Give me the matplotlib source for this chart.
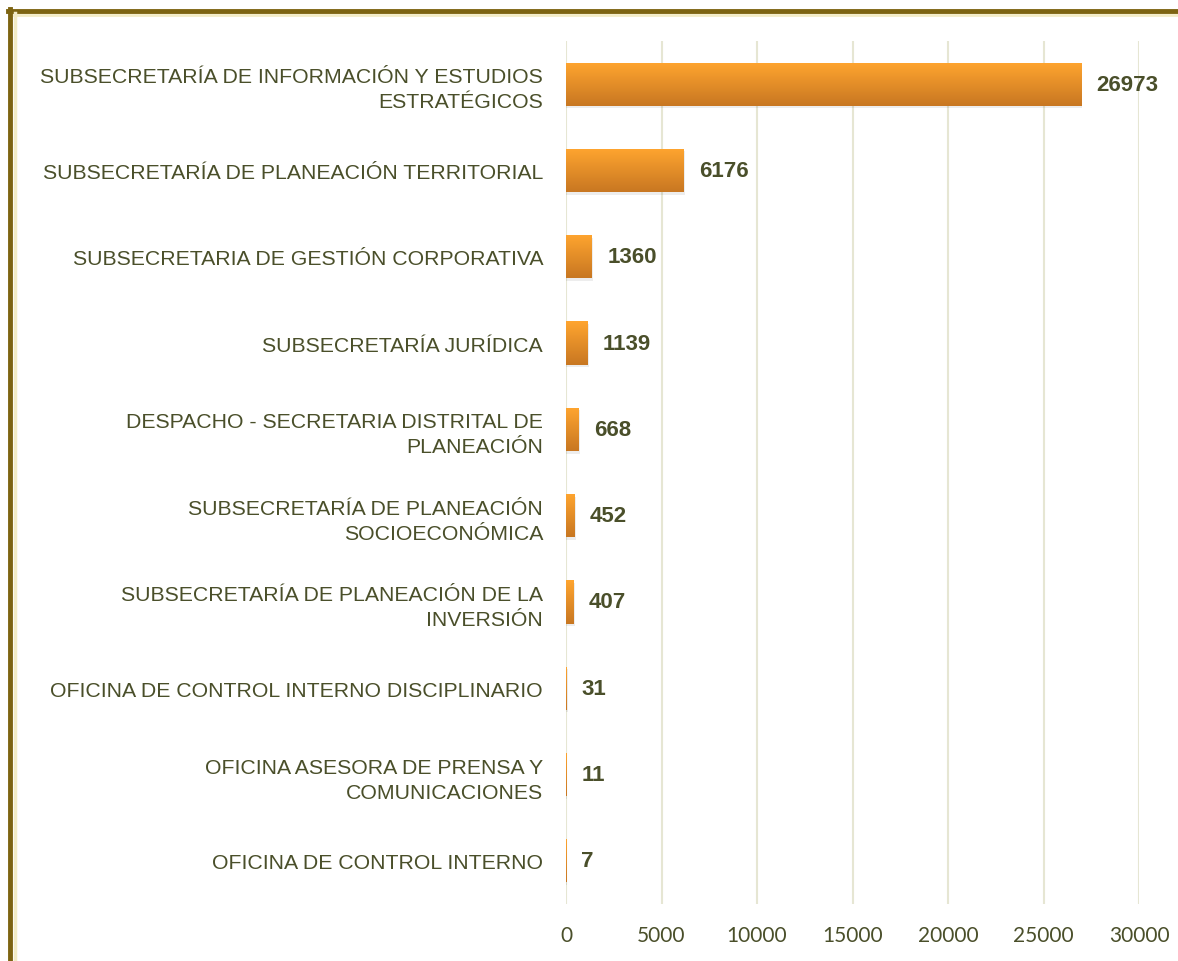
import matplotlib
matplotlib.use("Agg")
import matplotlib.pyplot as plt
from matplotlib.lines import Line2D
from matplotlib.patches import Rectangle
import numpy as np

categories = [
    "SUBSECRETARÍA DE INFORMACIÓN Y ESTUDIOS\nESTRATÉGICOS",
    "SUBSECRETARÍA DE PLANEACIÓN TERRITORIAL",
    "SUBSECRETARIA DE GESTIÓN CORPORATIVA",
    "SUBSECRETARÍA JURÍDICA",
    "DESPACHO - SECRETARIA DISTRITAL DE\nPLANEACIÓN",
    "SUBSECRETARÍA DE PLANEACIÓN\nSOCIOECONÓMICA",
    "SUBSECRETARÍA DE PLANEACIÓN DE LA\nINVERSIÓN",
    "OFICINA DE CONTROL INTERNO DISCIPLINARIO",
    "OFICINA ASESORA DE PRENSA Y\nCOMUNICACIONES",
    "OFICINA DE CONTROL INTERNO",
]
values = [26973, 6176, 1360, 1139, 668, 452, 407, 31, 11, 7]
xticks = [0, 5000, 10000, 15000, 20000, 25000, 30000]

text_color = "#4a4f2a"
label_font = ["Liberation Sans", "DejaVu Sans"]

fig = plt.figure(figsize=(11.78, 9.62), dpi=100)
ax = fig.add_axes([566 / 1178, 1 - 905 / 962, (1139 - 566) / 1178, (905 - 42) / 962])

y = np.arange(len(values))
bar_h = 0.5
grad = np.linspace(0, 1, 100).reshape(-1, 1)
cmap = matplotlib.colors.LinearSegmentedColormap.from_list("bar", ["#ffa52f", "#c87722"])

for yi, v in zip(y, values):
    # soft shadow below/right of the bar
    ax.add_patch(Rectangle((0, yi - bar_h / 2 + 0.03), v + 60, bar_h,
                           facecolor="#000000", alpha=0.07, edgecolor="none", zorder=2))
    rect = Rectangle((0, yi - bar_h / 2), v, bar_h, facecolor="none", edgecolor="none", zorder=3)
    ax.add_patch(rect)
    im = ax.imshow(grad, cmap=cmap, aspect="auto", extent=(0, v, yi + bar_h / 2, yi - bar_h / 2),
                   zorder=3, interpolation="bilinear")
    im.set_clip_path(rect)
    ax.annotate(str(v), (v, yi), xytext=(11, 0), textcoords="offset points",
                va="center", ha="left", fontsize=16, fontweight="bold",
                color=text_color, family=label_font, zorder=4, annotation_clip=False)

ax.set_xlim(0, 30000)
ax.set_ylim(len(values) - 0.5, -0.5)
ax.set_xticks(xticks)
ax.set_xticklabels([str(t) for t in xticks], fontsize=15, color=text_color, family=["Lato", "DejaVu Sans"])
ax.set_yticks(y)
ax.set_yticklabels(categories, fontsize=15.3, color=text_color, family=label_font, linespacing=1.4)
ax.tick_params(axis="both", length=0)
ax.tick_params(axis="y", pad=16.5)
ax.tick_params(axis="x", pad=15)
ax.grid(axis="x", color="#e6e6d3", linewidth=1.5, zorder=0)
ax.set_axisbelow(True)
for s in ax.spines.values():
    s.set_visible(False)

# frame border
fig.add_artist(Line2D([8 / 1178, 1], [1 - 12 / 962, 1 - 12 / 962], color="#7d6411", linewidth=3.5))
fig.add_artist(Line2D([14 / 1178, 1], [1 - 15.5 / 962, 1 - 15.5 / 962], color="#f3ecc6", linewidth=2))
fig.add_artist(Line2D([10 / 1178, 10 / 1178], [0, 1 - 10 / 962], color="#7d6411", linewidth=3.5))
fig.add_artist(Line2D([14.5 / 1178, 14.5 / 1178], [0, 1 - 14 / 962], color="#f3ecc6", linewidth=2.5))

fig.savefig("out.png", dpi=100)
